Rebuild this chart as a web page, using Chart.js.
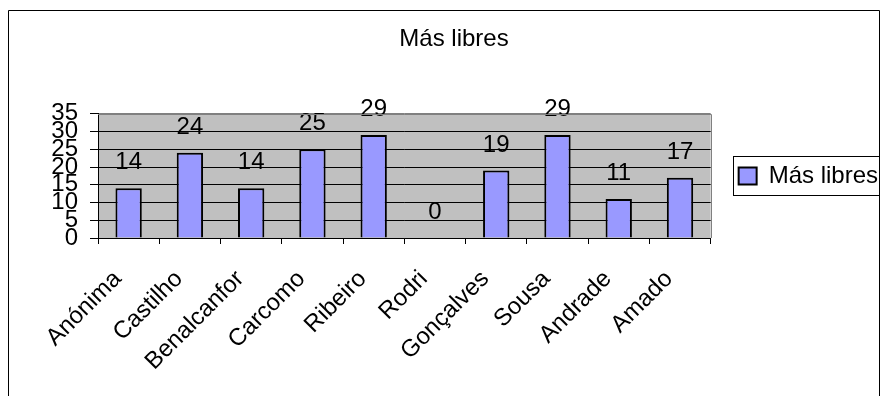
<!DOCTYPE html>
<html>
<head>
<meta charset="utf-8">
<script src="https://cdn.jsdelivr.net/npm/chart.js@4/dist/chart.umd.min.js"></script>
<style>
  html, body { margin: 0; padding: 0; background: #fff; }
</style>
</head>
<body>
<canvas id="chart" width="882" height="396"></canvas>
<script>
const categories = ['Anónima', 'Castilho', 'Benalcanfor', 'Carcomo', 'Ribeiro', 'Rodri', 'Gonçalves', 'Sousa', 'Andrade', 'Amado'];
const masLibres = [14, 24, 14, 25, 29, 0, 19, 29, 11, 17];
const seriesName = 'Más libres';
const chartTitle = 'Más libres';
const yTicks = [0, 5, 10, 15, 20, 25, 30, 35];

const FONT = '"Liberation Sans", Arial, sans-serif';

// gray plot area, outer frame, legend box and the value labels
const excelLook = {
  id: 'excelLook',
  beforeDraw(chart) {
    const { ctx, chartArea: a } = chart;
    ctx.save();
    ctx.fillStyle = '#c0c0c0';
    ctx.fillRect(a.left, a.top, a.right - a.left, a.bottom - a.top);
    ctx.restore();
  },
  afterDatasetsDraw(chart) {
    const { ctx } = chart;
    const meta = chart.getDatasetMeta(0);
    ctx.save();
    ctx.fillStyle = '#000';
    ctx.font = '24px ' + FONT;
    ctx.textAlign = 'center';
    ctx.textBaseline = 'alphabetic';
    meta.data.forEach((bar, i) => {
      ctx.fillText(String(masLibres[i]), bar.x, bar.y - 19);
    });
    ctx.restore();
  },
  afterDraw(chart) {
    const { ctx, chartArea: a } = chart;
    ctx.save();
    ctx.lineWidth = 1;
    // plot border (top / right)
    ctx.strokeStyle = '#808080';
    ctx.beginPath();
    ctx.moveTo(a.left, Math.round(a.top) + 0.5);
    ctx.lineTo(Math.round(a.right) + 0.5, Math.round(a.top) + 0.5);
    ctx.lineTo(Math.round(a.right) + 0.5, a.bottom);
    ctx.stroke();
    // outer chart frame
    ctx.strokeStyle = '#000';
    ctx.beginPath();
    ctx.moveTo(8.5, 396);
    ctx.lineTo(8.5, 10.5);
    ctx.lineTo(879.5, 10.5);
    ctx.lineTo(879.5, 396);
    ctx.stroke();
    // legend box
    const hb = chart.legend.legendHitBoxes[0];
    if (hb) {
      const cy = hb.top + hb.height / 2;
      const top = Math.round(cy - 20) + 0.5;
      const left = Math.round(hb.left - 6) + 0.5;
      ctx.strokeRect(left, top, 879.5 - left, 39);
    }
    ctx.restore();
  }
};

new Chart(document.getElementById('chart'), {
  type: 'bar',
  data: {
    labels: categories,
    datasets: [{
      label: seriesName,
      data: masLibres,
      backgroundColor: '#9999ff',
      borderColor: '#000',
      borderWidth: 2,
      categoryPercentage: 1,
      barPercentage: 0.43
    }]
  },
  options: {
    responsive: false,
    animation: false,
    layout: { padding: { top: 10, left: 20, right: -6, bottom: 0 } },
    plugins: {
      title: {
        display: true,
        text: chartTitle,
        color: '#000',
        font: { family: FONT, size: 24, weight: 'normal' },
        padding: { top: 15, bottom: 60 }
      },
      legend: {
        position: 'right',
        fullSize: false,
        labels: {
          color: '#000',
          font: { family: FONT, size: 24 },
          boxWidth: 18,
          boxHeight: 17,
          padding: 28
        }
      },
      tooltip: { enabled: false }
    },
    scales: {
      x: {
        afterFit(scale) { scale.height = 158; },
        grid: { drawOnChartArea: false, color: '#000', tickLength: 6 },
        border: { color: '#000' },
        ticks: {
          color: '#000',
          font: { family: FONT, size: 24 },
          minRotation: 45,
          maxRotation: 45,
          autoSkip: false,
          padding: 21,
          labelOffset: -11
        }
      },
      y: {
        min: 0,
        max: 35,
        afterFit(scale) { scale.width = 78; },
        afterBuildTicks(scale) { scale.ticks = yTicks.map(v => ({ value: v })); },
        grid: {
          color: c => (c.tick && c.tick.value === 35 ? '#808080' : '#000'),
          tickColor: '#000',
          tickLength: 8
        },
        border: { color: '#000' },
        ticks: {
          color: '#000',
          font: { family: FONT, size: 24 },
          autoSkip: false,
          padding: 12
        }
      }
    }
  },
  plugins: [excelLook]
});
</script>
</body>
</html>
